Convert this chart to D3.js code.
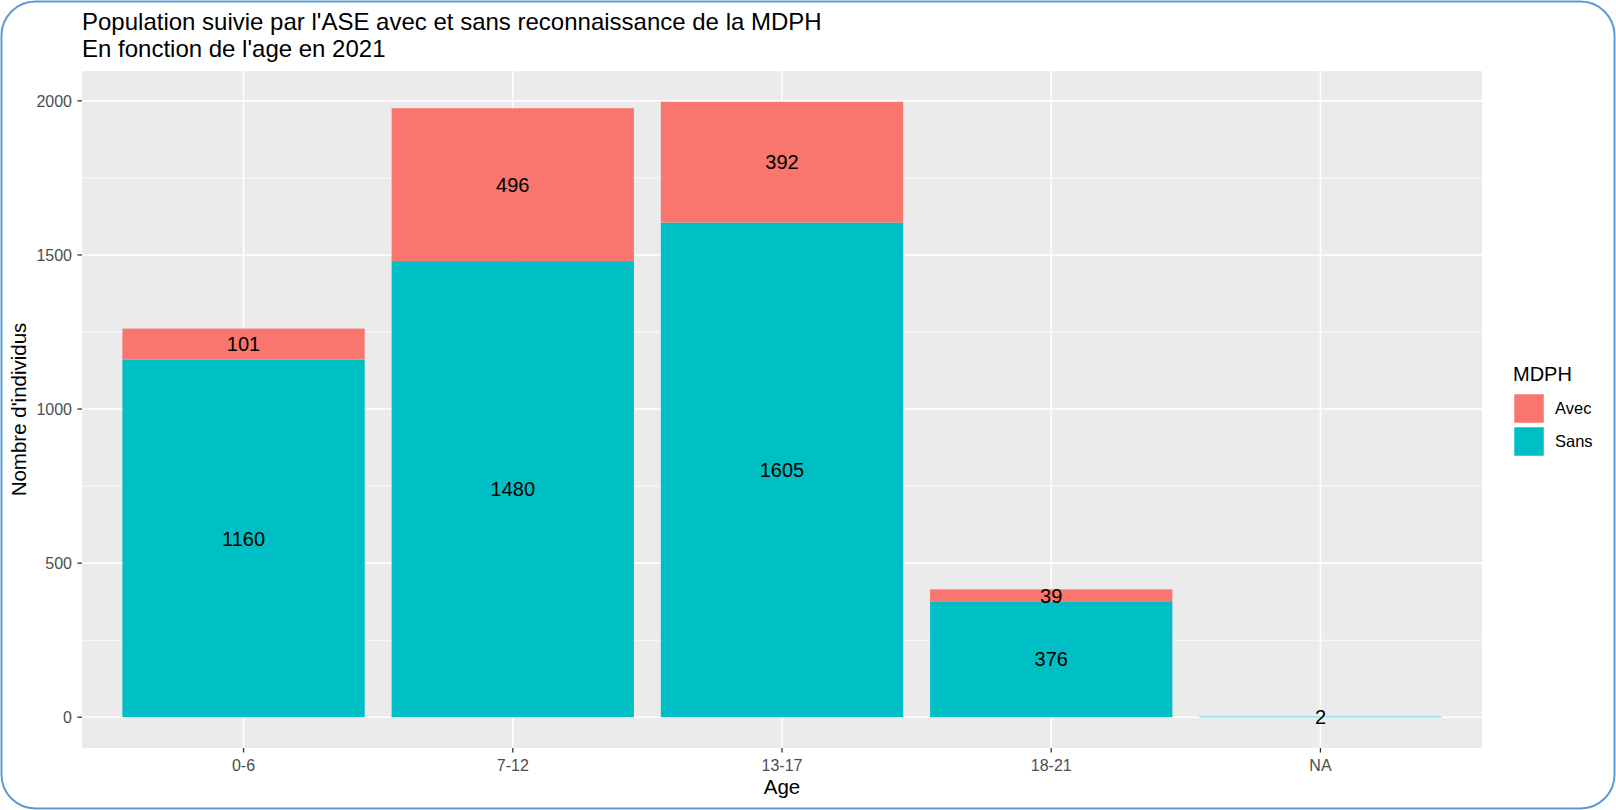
<!DOCTYPE html>
<html>
<head>
<meta charset="utf-8">
<script src="https://cdn.jsdelivr.net/npm/d3@7"></script>
<style>
  html, body { margin: 0; padding: 0; background: #fff; }
  svg { display: block; font-family: "Liberation Sans", Arial, Helvetica, sans-serif; }
</style>
</head>
<body>
<svg id="chart" width="1616" height="810"></svg>
<script>
// ---- data ----
const categories = ["0-6", "7-12", "13-17", "18-21", "NA"];
const sansValues = [1160, 1480, 1605, 376, 2];
const avecValues = [101, 496, 392, 39, 0];
const seriesNames = ["Avec", "Sans"];
const yTicks = [0, 500, 1000, 1500, 2000];
const yMinorTicks = [250, 750, 1250, 1750];
const titleLines = ["Population suivie par l'ASE avec et sans reconnaissance de la MDPH", "En fonction de l'age en 2021"];

const colors = { Avec: "#F8766D", Sans: "#00BFC4" };

const svg = d3.select("#chart");
const W = 1616, H = 810;

// border
svg.append("rect")
  .attr("x", 1.5).attr("y", 1.5)
  .attr("width", W - 3).attr("height", H - 3)
  .attr("rx", 34).attr("ry", 34)
  .attr("fill", "#fff")
  .attr("stroke", "#5B9BD5").attr("stroke-width", 2);

const panel = { left: 82, right: 1482, top: 71, bottom: 748 };

const maxStack = d3.max(categories.map((c, i) => sansValues[i] + avecValues[i]));
const expand = maxStack * 0.05;
const y = d3.scaleLinear().domain([-expand, maxStack + expand]).range([panel.bottom, panel.top]);
const x = d3.scaleLinear().domain([0.4, categories.length + 0.6]).range([panel.left, panel.right]);

// panel background
svg.append("rect")
  .attr("x", panel.left).attr("y", panel.top)
  .attr("width", panel.right - panel.left).attr("height", panel.bottom - panel.top)
  .attr("fill", "#EBEBEB");

const grid = svg.append("g");
grid.selectAll(".minor").data(yMinorTicks).enter().append("line")
  .attr("x1", panel.left).attr("x2", panel.right)
  .attr("y1", d => y(d)).attr("y2", d => y(d))
  .attr("stroke", "#fff").attr("stroke-width", 0.8);
grid.selectAll(".majorY").data(yTicks).enter().append("line")
  .attr("x1", panel.left).attr("x2", panel.right)
  .attr("y1", d => y(d)).attr("y2", d => y(d))
  .attr("stroke", "#fff").attr("stroke-width", 1.6);
grid.selectAll(".majorX").data(categories).enter().append("line")
  .attr("x1", (d, i) => x(i + 1)).attr("x2", (d, i) => x(i + 1))
  .attr("y1", panel.top).attr("y2", panel.bottom)
  .attr("stroke", "#fff").attr("stroke-width", 1.6);

// stacked bars
const rows = categories.map((c, i) => ({ cat: c, i: i, Sans: sansValues[i], Avec: avecValues[i] }));
const stack = d3.stack().keys(["Sans", "Avec"]);
const stacked = stack(rows);
const barW = x(1.9) - x(1);

const bars = svg.append("g");
stacked.forEach(layer => {
  bars.selectAll(".b-" + layer.key).data(layer).enter().append("rect")
    .attr("x", d => x(d.data.i + 1) - barW / 2)
    .attr("width", barW)
    .attr("y", d => y(d[1]))
    .attr("height", d => Math.max(0, y(d[0]) - y(d[1])))
    .attr("fill", colors[layer.key]);
});

// labels
const labels = svg.append("g").attr("font-size", 20).attr("fill", "#000").attr("text-anchor", "middle");
stacked.forEach(layer => {
  labels.selectAll(".l-" + layer.key).data(layer.filter(d => d[1] - d[0] > 0)).enter().append("text")
    .attr("x", d => x(d.data.i + 1))
    .attr("y", d => y((d[0] + d[1]) / 2))
    .attr("dy", "0.36em")
    .text(d => d[1] - d[0]);
});

// y axis
const yAxis = svg.append("g");
yTicks.forEach(t => {
  yAxis.append("line").attr("x1", panel.left - 4.5).attr("x2", panel.left)
    .attr("y1", y(t)).attr("y2", y(t)).attr("stroke", "#333").attr("stroke-width", 1.3);
  yAxis.append("text").attr("x", panel.left - 10).attr("y", y(t)).attr("dy", "0.36em")
    .attr("text-anchor", "end").attr("font-size", 16).attr("fill", "#4D4D4D").text(t);
});

// x axis
const xAxis = svg.append("g");
categories.forEach((c, i) => {
  xAxis.append("line").attr("x1", x(i + 1)).attr("x2", x(i + 1))
    .attr("y1", panel.bottom).attr("y2", panel.bottom + 4.5).attr("stroke", "#333").attr("stroke-width", 1.3);
  xAxis.append("text").attr("x", x(i + 1)).attr("y", 771)
    .attr("text-anchor", "middle").attr("font-size", 16).attr("fill", "#4D4D4D").text(c);
});

// axis titles
svg.append("text").attr("x", (panel.left + panel.right) / 2).attr("y", 794)
  .attr("text-anchor", "middle").attr("font-size", 20.5).attr("fill", "#000").text("Age");
svg.append("text")
  .attr("transform", `translate(26,${(panel.top + panel.bottom) / 2}) rotate(-90)`)
  .attr("text-anchor", "middle").attr("font-size", 20.5).attr("fill", "#000").text("Nombre d'individus");

// title
titleLines.forEach((t, k) => {
  svg.append("text").attr("x", panel.left).attr("y", 30 + k * 27)
    .attr("font-size", 24).attr("fill", "#000").text(t);
});

// legend
const legend = svg.append("g");
legend.append("text").attr("x", 1513).attr("y", 381).attr("font-size", 20).attr("fill", "#000").text("MDPH");
seriesNames.forEach((s, k) => {
  const ky = 394 + k * 33;
  legend.append("rect").attr("x", 1514).attr("y", ky).attr("width", 30).attr("height", 29)
    .attr("fill", colors[s]).attr("stroke", "#fff").attr("stroke-width", 0.5);
  legend.append("text").attr("x", 1555).attr("y", ky + 14.5).attr("dy", "0.36em")
    .attr("font-size", 16.5).attr("fill", "#000").text(s);
});
</script>
</body>
</html>
